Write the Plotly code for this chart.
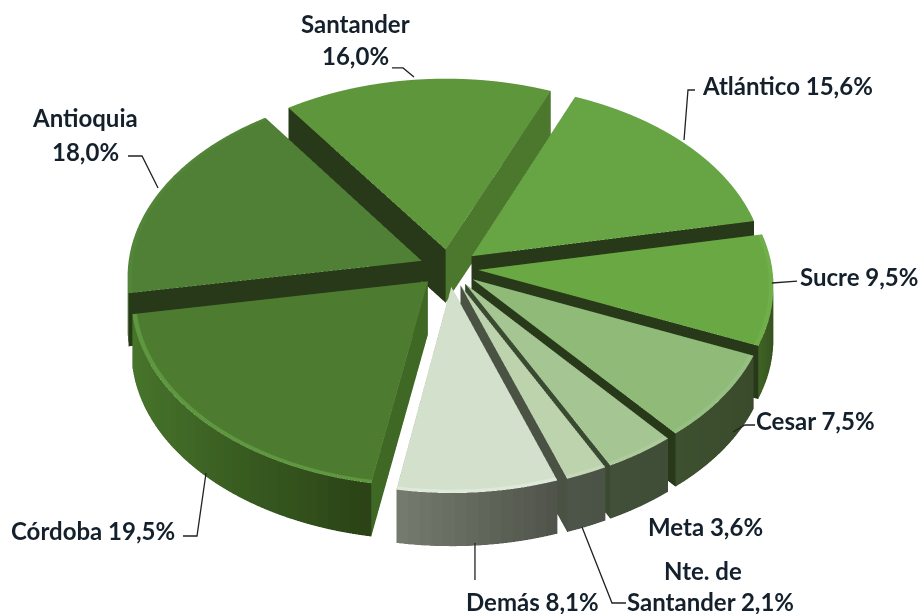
import math
import plotly.graph_objects as go

categories = ["Santander", "Atlántico", "Sucre", "Cesar", "Meta", "Nte. de Santander", "Demás", "Córdoba", "Antioquia"]
shares = [16.0, 15.6, 9.5, 7.5, 3.6, 2.1, 8.1, 19.5, 18.0]
top_colors = ["#5e963c", "#67a544", "#6aa843", "#8fba78", "#a5c593", "#bdd3ae", "#d2e0cc", "#4d7b2f", "#4f8035"]
rim_colors = ["#5e963c", "#67a544", "#6fae48", "#96c082", "#aecb9c", "#c5d9b7", "#dfe9d9", "#5f9640", "#528538"]
wall_left = ["#4b782c", "#4d7d30", "#3f6425", "#3d5030", "#42503a", "#4e5549", "#757c6f", "#47752b", "#4f8035"]
wall_right = ["#4b782c", "#4b782c", "#375420", "#3a4b2c", "#3f4d36", "#4b5246", "#4f5349", "#2a4216", "#4f8035"]
side_start = ["#28391a", "#28391a", "#28391a", "#28391a", "#3a4a30", "#4a5244", "#4a5244", "#3e6824", "#28391a"]
side_end = ["#4b782c", "#28391a", "#28391a", "#28391a", "#3a4a30", "#4a5244", "#4a5244", "#3e6824", "#28391a"]

START_DEG = -35.0
EXPLODE = 0.10
HEIGHT = 0.235
STEP = 2.0
EYE_DIST = 3.0
ELEV = math.radians(39.5)
PERSP = 0.078
CX, CY = 0.038, -0.063
ZOOM = 2.49


def hex_mix(a, b, t):
    ca = [int(a[i:i + 2], 16) for i in (1, 3, 5)]
    cb = [int(b[i:i + 2], 16) for i in (1, 3, 5)]
    return "#%02x%02x%02x" % tuple(round(x + (y - x) * t) for x, y in zip(ca, cb))


def wedge(a0, a1, idx):
    mid = math.radians((a0 + a1) / 2)
    ox, oy = EXPLODE * math.sin(mid), EXPLODE * math.cos(mid)
    n = max(2, int((a1 - a0) / STEP))
    angs = [math.radians(a0 + (a1 - a0) * t / n) for t in range(n + 1)]
    X, Y, Z, I, J, K, C = [], [], [], [], [], [], []

    def v(r, ang, z):
        px, py = ox + r * math.sin(ang), oy + r * math.cos(ang)
        w = 1 + PERSP * py
        X.append(px / w)
        Y.append(py / w)
        Z.append(z)
        return len(X) - 1

    def tri(a, b, c, col):
        I.append(a); J.append(b); K.append(c); C.append(col)

    def quad(a, b, c, d, col):
        tri(a, b, c, col); tri(a, c, d, col)

    for t in range(n):
        g = angs[t], angs[t + 1]
        c = v(0, 0, HEIGHT)
        p, q = v(0.985, g[0], HEIGHT), v(0.985, g[1], HEIGHT)
        tri(c, p, q, top_colors[idx])
        p2, q2 = v(1, g[0], HEIGHT), v(1, g[1], HEIGHT)
        quad(p, p2, q2, q, rim_colors[idx])
        b0, b1 = v(1, g[0], 0), v(1, g[1], 0)
        sx = (math.sin(g[0]) + math.sin(g[1])) / 2
        lo, hi = math.sin(angs[0]), math.sin(angs[-1])
        f = (sx - min(lo, hi)) / (abs(hi - lo) or 1)
        quad(p2, b0, b1, q2, hex_mix(wall_left[idx], wall_right[idx], f))
    for ang, col in ((angs[0], side_start[idx]), (angs[-1], side_end[idx])):
        a = v(0, 0, HEIGHT); b = v(0, 0, 0); c = v(1, ang, 0); d = v(1, ang, HEIGHT)
        quad(a, b, c, d, col)
    return go.Mesh3d(x=X, y=Y, z=Z, i=I, j=J, k=K, facecolor=C, flatshading=True,
                     lighting=dict(ambient=1, diffuse=0, specular=0, fresnel=0, roughness=1),
                     name=categories[idx], hoverinfo="name", showscale=False)


total = sum(shares)
traces, cur = [], START_DEG
for idx, s in enumerate(shares):
    nxt = cur + s / total * 360
    traces.append(wedge(cur, nxt, idx))
    cur = nxt

W, H = 921, 614
R = 1.3
fig = go.Figure(traces)
ax = dict(visible=False, showgrid=False, zeroline=False, showbackground=False)
fig.update_layout(
    width=W, height=H, margin=dict(l=0, r=0, t=0, b=0), autosize=False,
    paper_bgcolor="white", showlegend=False,
    scene=dict(
        domain=dict(x=[0, 1], y=[0, 1]),
        xaxis=dict(range=[-R, R], **ax), yaxis=dict(range=[-R, R], **ax),
        zaxis=dict(range=[0, HEIGHT], **ax),
        aspectmode="manual", aspectratio=dict(x=ZOOM, y=ZOOM, z=ZOOM * HEIGHT / (2 * R)),
        camera=dict(eye=dict(x=CX, y=CY - EYE_DIST * math.cos(ELEV), z=EYE_DIST * math.sin(ELEV)),
                    center=dict(x=CX, y=CY, z=0), up=dict(x=0, y=0, z=1),
                    projection=dict(type="orthographic")),
    ),
)

label_lines = [
    ("Santander", 355, 23, "center"), ("16,0%", 355, 55, "center"),
    ("Atlántico 15,6%", 700, 85, "left"), ("Sucre 9,5%", 798, 276, "left"),
    ("Cesar 7,5%", 754, 420, "left"), ("Meta 3,6%", 646, 526, "left"),
    ("Nte. de", 703, 570, "center"), ("Santander 2,1%", 625, 601, "left"),
    ("Demás 8,1%", 464, 601, "left"), ("Córdoba 19,5%", 9, 530, "left"),
    ("Antioquia", 85, 118, "center"), ("18,0%", 85, 151, "center"),
]
for text, x, y, anchor in label_lines:
    fig.add_annotation(text=f"<b>{text}</b>", x=x / W, y=1 - y / H, xref="paper", yref="paper",
                       xanchor=anchor, yanchor="middle", showarrow=False,
                       font=dict(family="Lato", size=24, color="#14202c"))

leaders = [
    [(392, 68), (403, 68), (414, 77)],
    [(695, 90), (688, 90), (684, 140)],
    [(797, 281), (772, 283)],
    [(733, 432), (745, 425), (755, 425)],
    [(128, 156), (142, 156), (158, 188)],
    [(183, 536), (197, 536), (206, 473)],
    [(475, 543), (475, 580)],
    [(582, 527), (612, 603), (626, 603)],
]
for pts in leaders:
    path = "M " + " L ".join(f"{x / W:.4f},{1 - y / H:.4f}" for x, y in pts)
    fig.add_shape(type="path", path=path, xref="paper", yref="paper",
                  line=dict(color="#222222", width=1.3), layer="above")

fig.write_html("out.html", config=dict(displayModeBar=False),
               post_script="document.body.style.margin='0';window.dispatchEvent(new Event('resize'));")
